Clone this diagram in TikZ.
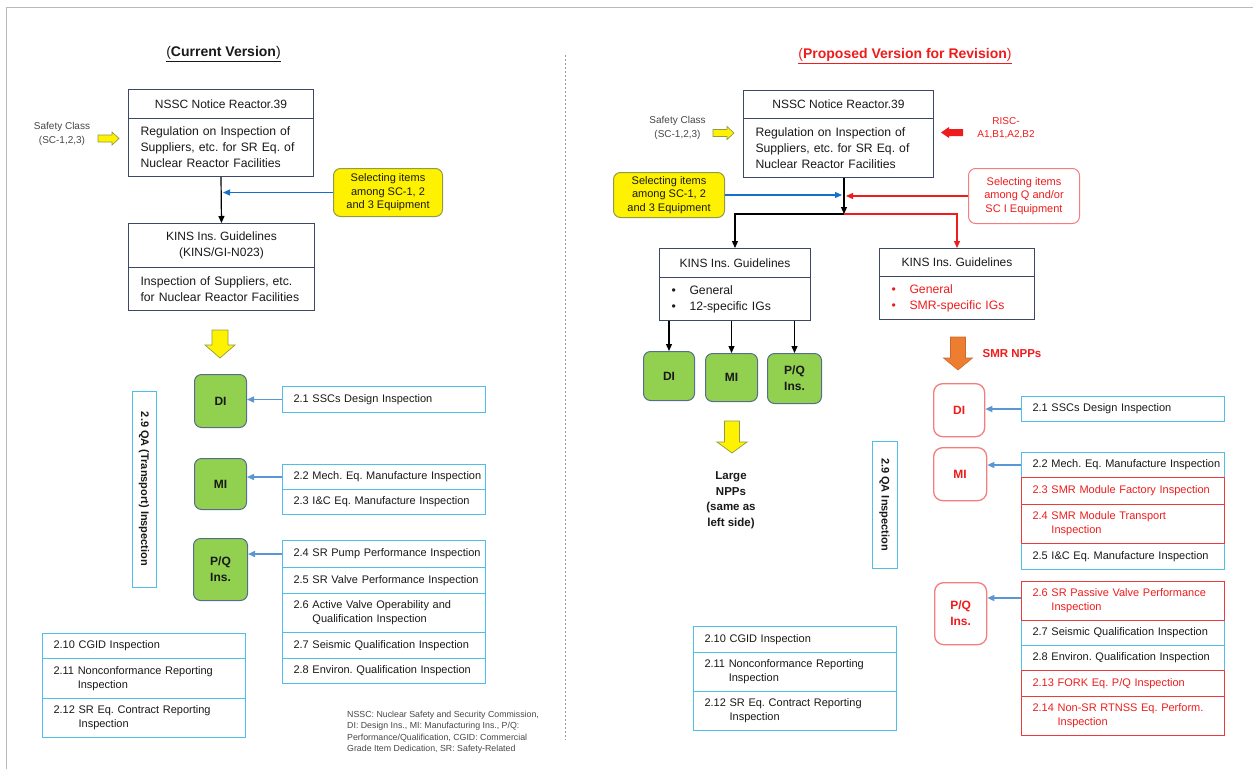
\documentclass[tikz,border=0pt]{standalone}
\usepackage{fontspec}
\setmainfont{Liberation Sans}
\usetikzlibrary{arrows.meta, calc}

\definecolor{ink}{RGB}{25,25,25}
\definecolor{txtgray}{RGB}{70,70,70}
\definecolor{boxline}{RGB}{60,72,100}
\definecolor{cyanline}{RGB}{80,190,235}
\definecolor{redline}{RGB}{235,60,60}
\definecolor{redtext}{RGB}{238,28,28}
\definecolor{lightred}{RGB}{245,125,125}
\definecolor{greenfill}{RGB}{146,208,80}
\definecolor{greenline}{RGB}{85,110,140}
\definecolor{selblue}{RGB}{20,112,200}
\definecolor{listblue}{RGB}{90,150,212}
\definecolor{yellowline}{RGB}{145,155,70}
\definecolor{orangefill}{RGB}{237,125,49}

\frenchspacing
\newcommand{\itm}[2]{\begin{tabular}{@{\hspace{11pt}}l@{\ }l@{}}#1 & #2\end{tabular}}

\tikzset{
  boxcell/.style={draw=boxline, line width=1pt, anchor=north west, inner sep=0pt, text=ink},
  hdrcell/.style={boxcell, align=center, font=\fontsize{12}{16}\selectfont},
  bodycell/.style={boxcell, inner xsep=12pt, align=left, font=\fontsize{12.2}{16}\selectfont},
  insitem/.style={boxcell, draw=cyanline, text width=203pt, align=left, minimum height=25pt, font=\fontsize{11}{14}\selectfont},
  reditem/.style={insitem, draw=redline, text=redtext},
  insbox/.style={draw=greenline, fill=greenfill, line width=1pt, rounded corners=7pt, anchor=north west, inner sep=0pt, align=center, text=ink, font=\bfseries\fontsize{12}{16}\selectfont},
  smrbox/.style={insbox, draw=lightred, fill=white, line width=1.3pt, rounded corners=9pt, text=redtext},
  selbox/.style={draw=yellowline, fill=yellow, line width=1pt, rounded corners=7pt, anchor=north west, inner sep=0pt, align=center, text=ink, font=\fontsize{11}{13.5}\selectfont},
  qabox/.style={draw=cyanline, line width=1pt, rotate=-90, inner sep=0pt, text=ink, font=\bfseries\fontsize{11}{13}\selectfont},
  smallnote/.style={inner sep=0pt, align=center, text=txtgray, font=\fontsize{10}{14}\selectfont},
  blk/.style={line width=1.2pt, -{Triangle[length=7pt,width=6pt]}},
  bluearr/.style={blk, draw=selblue},
  listarr/.style={blk, draw=listblue, line width=1.4pt},
  redarr/.style={blk, draw=redtext},
  blockarr/.style={fill=yellow, draw=yellowline, line width=0.7pt},
}

\begin{document}
\begin{tikzpicture}[x=1pt, y=-1pt]
  \useasboundingbox (0,0) rectangle (1253,769);

  % frame and divider
  \draw[gray!55, line width=1pt] (6,769) -- (6,7) -- (1253,7);
  \draw[gray!80, line width=0.8pt, dash pattern=on 2pt off 2pt] (565,55) -- (565,740);

  %%% current version
  \node[text=ink, font=\bfseries\fontsize{14}{16}\selectfont] (titleL) at (223.5,54)
    {\underline{{\mdseries(}Current Version{\mdseries)}}};

  \node[hdrcell, minimum width=185, minimum height=29] (nsscHL) at (128,89) {NSSC Notice Reactor.39};
  \node[bodycell, text width=161pt, minimum height=58] (nsscBL) at (128,118)
    {Regulation on Inspection of\\Suppliers, etc. for SR Eq. of\\Nuclear Reactor Facilities};
  \node[smallnote] (safeL) at (62,134) {Safety Class\\(SC-1,2,3)};
  \filldraw[blockarr, shift={(98,138.5)}] (0,-3.5) -- (14,-3.5) -- (14,-6.5) -- (21,0) -- (14,6.5) -- (14,3.5) -- (0,3.5) -- cycle;

  \node[selbox, minimum width=109, minimum height=48] (selL) at (333,168)
    {Selecting items\\among SC-1, 2\\and 3 Equipment};

  \node[hdrcell, minimum width=186, minimum height=44] (kinsHL) at (128,223) {KINS Ins. Guidelines\\(KINS/GI-N023)};
  \node[bodycell, text width=162pt, minimum height=43] (kinsBL) at (128,267)
    {Inspection of Suppliers, etc.\\for Nuclear Reactor Facilities};

  \draw[blk] (nsscBL.south) -- (kinsHL.north);
  \draw[bluearr] (selL.west) -- ($(selL.west -| nsscBL.south)+(2,0)$);

  \filldraw[blockarr, shift={(220,330)}] (-8,0) -- (8,0) -- (8,15) -- (15,15) -- (0,28) -- (-15,15) -- (-8,15) -- cycle;

  \node[qabox, minimum width=196, minimum height=24] (qaL) at (144,489) {2.9 QA (Transport) Inspection};

  \node[insbox, minimum width=52, minimum height=53] (diL) at (194,374) {DI};
  \node[insbox, minimum width=52, minimum height=51] (miL) at (194,458) {MI};
  \node[insbox, minimum width=54, minimum height=62] (pqL) at (193,538) {P/Q\\Ins.};

  \node[insitem, minimum height=26] (i21L) at (282,386) {\itm{2.1}{SSCs Design Inspection}};
  \node[insitem] (i22L) at (282,464) {\itm{2.2}{Mech. Eq. Manufacture Inspection}};
  \node[insitem] (i23L) at (282,489) {\itm{2.3}{I\&C Eq. Manufacture Inspection}};
  \node[insitem, minimum height=27] (i24L) at (282,540) {\itm{2.4}{SR Pump Performance Inspection}};
  \node[insitem, minimum height=26] (i25L) at (282,567) {\itm{2.5}{SR Valve Performance Inspection}};
  \node[insitem, minimum height=39] (i26L) at (282,593) {\itm{2.6}{Active Valve Operability and\\ & Qualification Inspection}};
  \node[insitem, minimum height=26] (i27L) at (282,632) {\itm{2.7}{Seismic Qualification Inspection}};
  \node[insitem] (i28L) at (282,658) {\itm{2.8}{Environ. Qualification Inspection}};

  \draw[listarr] (i21L.west) -- (i21L.west -| diL.east);
  \draw[listarr] (i22L.west) -- (i22L.west -| miL.east);
  \draw[listarr] (i24L.west) -- (i24L.west -| pqL.east);

  \node[insitem] (i210L) at (42,633) {\itm{2.10}{CGID Inspection}};
  \node[insitem, minimum height=40] (i211L) at (42,658) {\itm{2.11}{Nonconformance Reporting\\ & Inspection}};
  \node[insitem, minimum height=39] (i212L) at (42,698) {\itm{2.12}{SR Eq. Contract Reporting\\ & Inspection}};

  \node[inner sep=0pt, anchor=north west, align=left, text=txtgray, font=\fontsize{8.8}{11.3}\selectfont] (abbr) at (347,711)
    {NSSC: Nuclear Safety and Security Commission,\\DI: Design Ins., MI: Manufacturing Ins., P/Q:\\Performance/Qualification, CGID: Commercial\\Grade Item Dedication, SR: Safety-Related};

  %%% proposed version
  \node[text=redtext, font=\bfseries\fontsize{14}{16}\selectfont] (titleR) at (905,56)
    {\underline{{\mdseries(}Proposed Version for Revision{\mdseries)}}};

  \node[hdrcell, minimum width=190, minimum height=28] (nsscHR) at (743,90) {NSSC Notice Reactor.39};
  \node[bodycell, text width=166pt, minimum height=59] (nsscBR) at (743,118)
    {Regulation on Inspection of\\Suppliers, etc. for SR Eq. of\\Nuclear Reactor Facilities};
  \node[smallnote] (safeR) at (677.5,128) {Safety Class\\(SC-1,2,3)};
  \filldraw[blockarr, shift={(713,133)}] (0,-3.5) -- (14,-3.5) -- (14,-6.5) -- (21,0) -- (14,6.5) -- (14,3.5) -- (0,3.5) -- cycle;
  \fill[redtext, shift={(941,132.5)}] (0,0) -- (8,-5.5) -- (8,-3.5) -- (22,-3.5) -- (22,3.5) -- (8,3.5) -- (8,5.5) -- cycle;
  \node[smallnote, text=redtext, font=\fontsize{10}{13}\selectfont] (risc) at (1006,128.5) {RISC-\\A1,B1,A2,B2};

  \node[selbox, minimum width=111, minimum height=45] (selR) at (613,172)
    {Selecting items\\among SC-1, 2\\and 3 Equipment};
  \node[selbox, draw=lightred, fill=white, text=redtext, minimum width=111, minimum height=55] (selQ) at (968,168)
    {Selecting items\\among Q and/or\\SC I Equipment};

  \node[hdrcell, minimum width=151, minimum height=29] (kinsHR1) at (659,248) {KINS Ins. Guidelines};
  \node[bodycell, text width=127pt, minimum height=43] (kinsBR1) at (659,277)
    {\makebox[18pt][l]{•}General\\\makebox[18pt][l]{•}12-specific IGs};
  \node[hdrcell, minimum width=155, minimum height=28] (kinsHR2) at (879,248) {KINS Ins. Guidelines};
  \node[bodycell, text width=131pt, minimum height=43, text=redtext] (kinsBR2) at (879,276)
    {\makebox[18pt][l]{•}General\\\makebox[18pt][l]{•}SMR-specific IGs};

  \coordinate (jR) at (844,214);
  \draw[blk] (nsscBR.south -| jR) -- (jR);
  \draw[bluearr] (selR.east) -- ($(selR.east -| jR)+(-2,0)$);
  \draw[redarr] (selQ.west) -- ($(selQ.west -| jR)+(2,0)$);
  \draw[blk] (jR) -| (kinsHR1.north);
  \draw[redarr] (jR) -| (kinsHR2.north);

  \node[insbox, minimum width=51, minimum height=49] (diR) at (643,351) {DI};
  \node[insbox, minimum width=52, minimum height=48] (miR) at (705,353) {MI};
  \node[insbox, minimum width=54, minimum height=50] (pqR) at (767,353) {P/Q\\Ins.};
  \foreach \g in {diR,miR,pqR}
    \draw[blk] (kinsBR1.south -| \g.north) -- (\g.north);

  \filldraw[blockarr, shift={(732,421)}] (-7.5,0) -- (7.5,0) -- (7.5,21) -- (15,21) -- (0,32) -- (-15,21) -- (-7.5,21) -- cycle;
  \node[inner sep=0pt, align=center, text=ink, font=\bfseries\fontsize{11.5}{15.5}\selectfont] (large) at (731,500)
    {Large\\NPPs\\(same as\\left side)};

  \node[qabox, minimum width=127, minimum height=25] (qaR) at (884.5,504.5) {2.9 QA Inspection};

  \node[insitem, minimum height=26] (i210R) at (693,626) {\itm{2.10}{CGID Inspection}};
  \node[insitem, minimum height=39] (i211R) at (693,652) {\itm{2.11}{Nonconformance Reporting\\ & Inspection}};
  \node[insitem, minimum height=39] (i212R) at (693,691) {\itm{2.12}{SR Eq. Contract Reporting\\ & Inspection}};

  \filldraw[fill=orangefill, draw=orangefill!85!black, line width=0.6pt, shift={(958,337)}] (-7.5,0) -- (7.5,0) -- (7.5,21) -- (14.5,21) -- (0,33) -- (-14.5,21) -- (-7.5,21) -- cycle;
  \node[text=redtext, font=\bfseries\fontsize{11.5}{14}\selectfont] (smr) at (1012,354) {SMR NPPs};

  \node[smrbox, minimum width=51, minimum height=53] (diS) at (933,383) {DI};
  \node[smrbox, minimum width=53, minimum height=53] (miS) at (933,447) {MI};
  \node[smrbox, minimum width=52, minimum height=62] (pqS) at (934,582) {P/Q\\Ins.};

  \node[insitem] (i21R) at (1021,396) {\itm{2.1}{SSCs Design Inspection}};
  \node[insitem] (i22R) at (1021,452) {\itm{2.2}{Mech. Eq. Manufacture Inspection}};
  \node[insitem, minimum height=26] (i25R) at (1021,543) {\itm{2.5}{I\&C Eq. Manufacture Inspection}};
  \node[insitem] (i27R) at (1021,620) {\itm{2.7}{Seismic Qualification Inspection}};
  \node[insitem] (i28R) at (1021,645) {\itm{2.8}{Environ. Qualification Inspection}};
  \node[reditem, minimum height=27] (i23R) at (1021,477) {\itm{2.3}{SMR Module Factory Inspection}};
  \node[reditem, minimum height=39] (i24R) at (1021,504) {\itm{2.4}{SMR Module Transport\\ & Inspection}};
  \node[reditem, minimum height=39] (i26R) at (1021,581) {\itm{2.6}{SR Passive Valve Performance\\ & Inspection}};
  \node[reditem, minimum height=26] (i213R) at (1021,670) {\itm{2.13}{FORK Eq. P/Q Inspection}};
  \node[reditem, minimum height=39] (i214R) at (1021,696) {\itm{2.14}{Non-SR RTNSS Eq. Perform.\\ & Inspection}};

  \draw[listarr] (i21R.west) -- (i21R.west -| diS.east);
  \draw[listarr] (i22R.west) -- (i22R.west -| miS.east);
  \draw[listarr] ($(i26R.west)+(0,-3)$) -- ($(i26R.west -| pqS.east)+(0,-3)$);

\end{tikzpicture}
\end{document}
